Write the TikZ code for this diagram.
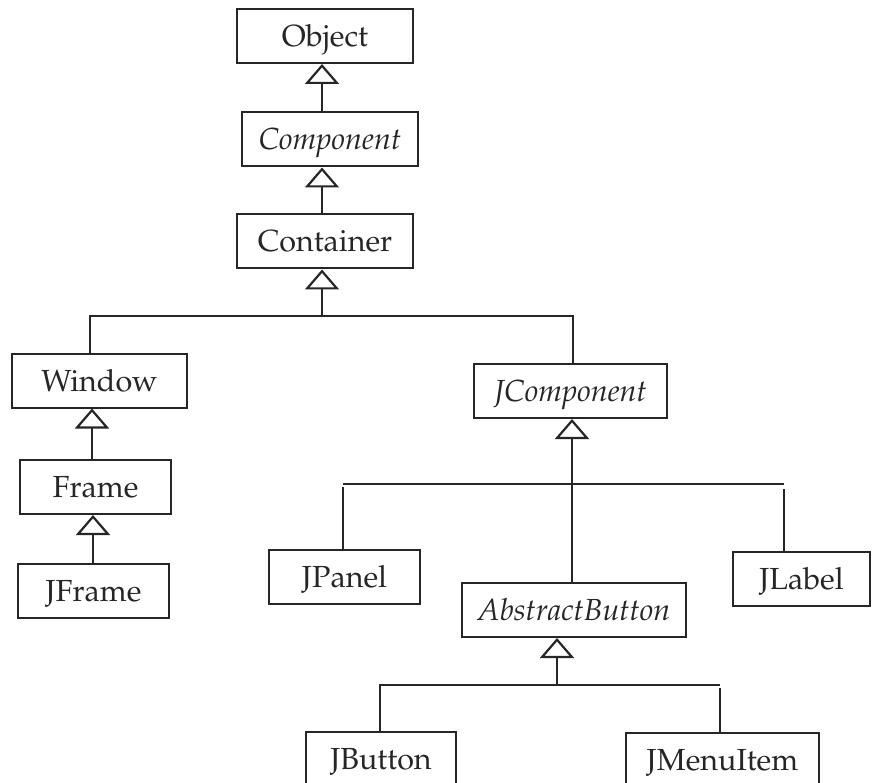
\documentclass[tikz,border=0pt]{standalone}
\usepackage[T1]{fontenc}
\usepackage{mathpazo}
\usetikzlibrary{arrows.meta}
\begin{document}
\begin{tikzpicture}[x=1pt,y=-1pt,
  cls/.style={draw=black!85, line width=2pt, rectangle, inner sep=0pt,
    minimum height=54pt, text=black!85, font=\fontsize{30.5}{36}\selectfont,
    text height=21pt, text depth=0pt},
  conn/.style={draw=black!85, line width=2.2pt},
  inh/.style={conn, -{Triangle[open, length=20pt, width=34pt, fill=white]}}]
\useasboundingbox (0,0) rectangle (872,783);
\begin{scope}
\clip (0,0) rectangle (872,783);
% class boxes
\node[cls, minimum width=176pt] (object) at (325,36) {Object};
\node[cls, minimum width=176pt] (component) at (330,139.5) {\itshape Component};
\node[cls, minimum width=176pt] (container) at (325,241.5) {Container};
\node[cls, minimum width=175pt] (window) at (99.5,380.5) {Window};
\node[cls, minimum width=151pt] (frame) at (95.5,487) {Frame};
\node[cls, minimum width=151pt] (jframe) at (93.5,591) {JFrame};
\node[cls, minimum width=193pt] (jcomponent) at (570.5,391) {\itshape JComponent};
\node[cls, minimum width=151pt] (jpanel) at (344.5,576.5) {JPanel};
\node[cls, minimum width=137pt] (jlabel) at (801.5,579) {JLabel};
\node[cls, minimum width=224pt] (abstractbutton) at (574,610) {\itshape AbstractButton};
\node[cls, minimum width=150pt] (jbutton) at (381,759) {JButton};
\node[cls, minimum width=193pt] (jmenuitem) at (722.5,760) {JMenuItem};
% helper coordinates
\coordinate (a1) at (322,316);
\coordinate (b1) at (90,316);
\coordinate (b2) at (573,316);
\coordinate (w1) at (92,0);
\coordinate (f1) at (93,0);
\coordinate (j1) at (572,484);
\coordinate (p1) at (343,484);
\coordinate (p2) at (343,487);
\coordinate (l1) at (784,484);
\coordinate (l2) at (784,489);
\coordinate (ab1) at (557,685);
\coordinate (bt1) at (380,685);
\coordinate (mi1) at (720,685);
\coordinate (mi2) at (720,688);
% top chain
\draw[inh] (component.north -| a1) -- (object.south -| a1);
\draw[inh] (container.north -| a1) -- (component.south -| a1);
\draw[inh] (a1) -- (container.south -| a1);
\draw[conn] (window.north -| b1) -- (b1) -- (b2) -- (jcomponent.north -| b2);
% window branch
\draw[inh] (frame.north -| w1) -- (window.south -| w1);
\draw[inh] (jframe.north -| f1) -- (frame.south -| f1);
% jcomponent branch
\draw[inh] (abstractbutton.north -| j1) -- (jcomponent.south -| j1);
\draw[conn] (p1) -- (l1);
\draw[conn] (p2) -- (jpanel.north -| p2);
\draw[conn] (l2) -- (jlabel.north -| l2);
% abstractbutton branch
\draw[inh] (ab1) -- (abstractbutton.south -| ab1);
\draw[conn] (jbutton.north -| bt1) -- (bt1) -- (mi1);
\draw[conn] (mi2) -- (jmenuitem.north -| mi2);
\end{scope}
\end{tikzpicture}
\end{document}
